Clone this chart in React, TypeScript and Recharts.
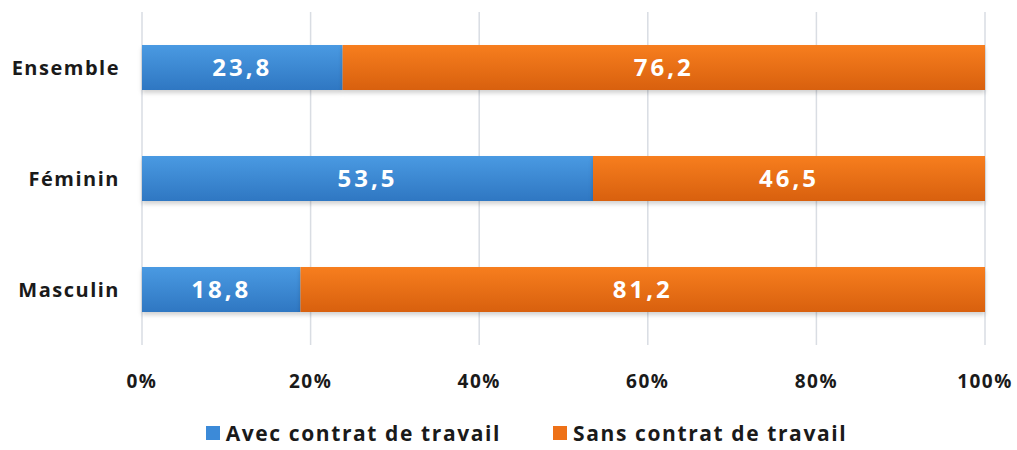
import { BarChart, Bar, XAxis, YAxis, CartesianGrid, Legend, LabelList } from 'recharts'

const categories = ['Ensemble', 'Féminin', 'Masculin']
const avecContrat = [23.8, 53.5, 18.8]
const sansContrat = [76.2, 46.5, 81.2]
const xTicks = [0, 20, 40, 60, 80, 100]

const seriesNames = {
  avec: 'Avec contrat de travail',
  sans: 'Sans contrat de travail',
}

const data = categories.map((name, i) => ({
  name,
  avec: avecContrat[i],
  sans: sansContrat[i],
}))

const font = "'Open Sans', Lato, sans-serif"

const fmt = (v: number) => v.toFixed(1).replace('.', ',')

function LegendContent() {
  const items = [
    { label: seriesNames.avec, color: '#3c8ad8' },
    { label: seriesNames.sans, color: '#ee7117' },
  ]
  return (
    <div
      style={{
        display: 'flex',
        justifyContent: 'center',
        gap: 52,
        fontFamily: font,
        fontWeight: 700,
        fontSize: 21,
        letterSpacing: 1.6,
        color: '#1a1a1a',
        paddingLeft: 68,
        paddingTop: 26,
        lineHeight: '24px',
      }}
    >
      {items.map((it) => (
        <div key={it.label} style={{ display: 'flex', alignItems: 'center' }}>
          <span
            style={{
              display: 'inline-block',
              width: 14,
              height: 14,
              background: it.color,
              marginRight: 6,
            }}
          />
          {it.label}
        </div>
      ))}
    </div>
  )
}

export default function App() {
  return (
    <div style={{ position: 'absolute', left: 0, top: 0, width: 1017, height: 450, background: '#fff' }}>
      <BarChart
        width={1017}
        height={450}
        data={data}
        layout="vertical"
        barSize={45}
        margin={{ top: 12, right: 32, left: 0, bottom: 0 }}
      >
        <defs>
          <linearGradient id="gBlue" x1="0" y1="0" x2="0" y2="1">
            <stop offset="0%" stopColor="#4a9ae2" />
            <stop offset="100%" stopColor="#2f77c2" />
          </linearGradient>
          <linearGradient id="gOrange" x1="0" y1="0" x2="0" y2="1">
            <stop offset="0%" stopColor="#f77e1e" />
            <stop offset="100%" stopColor="#d8600e" />
          </linearGradient>
        </defs>
        <CartesianGrid horizontal={false} stroke="#d9dde3" strokeWidth={1.5} />
        <XAxis
          type="number"
          domain={[0, 100]}
          ticks={xTicks}
          tickFormatter={(v) => `${v}%`}
          axisLine={false}
          tickLine={false}
          tickMargin={24}
          height={50}
          tick={{ fontFamily: font, fontWeight: 700, fontSize: 19, fill: '#1a1a1a', letterSpacing: 1.5 }}
        />
        <YAxis
          type="category"
          dataKey="name"
          width={142}
          axisLine={false}
          tickLine={false}
          tickMargin={16}
          tick={{ fontFamily: font, fontWeight: 700, fontSize: 20, fill: '#1a1a1a', letterSpacing: 1.5 }}
        />
        <Legend verticalAlign="bottom" height={55} content={<LegendContent />} />
        <Bar
          dataKey="avec"
          name={seriesNames.avec}
          stackId="a"
          fill="url(#gBlue)"
          isAnimationActive={false}
          style={{ filter: 'drop-shadow(0 3px 2px rgba(0,0,0,0.18))' }}
        >
          <LabelList
            dataKey="avec"
            position="center"
            formatter={(v: any) => fmt(Number(v))}
            style={{ fontFamily: font, fontWeight: 700, fontSize: 24, fill: '#fff', letterSpacing: 3 }}
          />
        </Bar>
        <Bar
          dataKey="sans"
          name={seriesNames.sans}
          stackId="a"
          fill="url(#gOrange)"
          isAnimationActive={false}
          style={{ filter: 'drop-shadow(0 3px 2px rgba(0,0,0,0.18))' }}
        >
          <LabelList
            dataKey="sans"
            position="center"
            formatter={(v: any) => fmt(Number(v))}
            style={{ fontFamily: font, fontWeight: 700, fontSize: 24, fill: '#fff', letterSpacing: 3 }}
          />
        </Bar>
      </BarChart>
    </div>
  )
}
